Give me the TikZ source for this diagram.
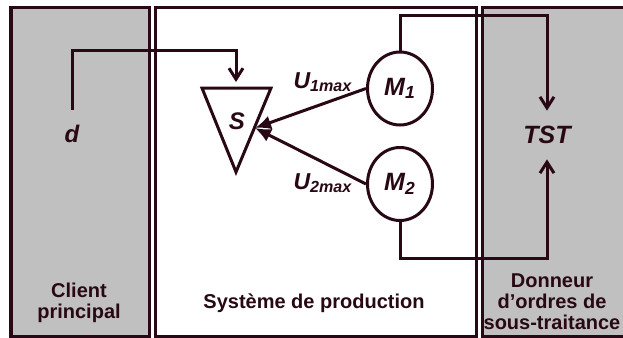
\documentclass[tikz,border=0pt]{standalone}
\usepackage{fontspec}
\setmainfont{Liberation Sans}
\usetikzlibrary{shapes.geometric,arrows.meta}
\definecolor{ink}{RGB}{40,8,20}
\definecolor{zonegray}{RGB}{192,192,192}

\begin{document}
\begin{tikzpicture}[x=0.5pt, y=-0.5pt, color=ink, line width=1.5pt]
\tikzstyle{every node} = [text=ink, font=\bfseries]
\tikzstyle{zone} = [draw=ink, line width=1.5pt]
\tikzstyle{zonetext} = [align=center, font=\bfseries\fontsize{10}{10.5}\selectfont]
\tikzstyle{machine} = [ellipse, draw=ink, line width=1.5pt, minimum width=32.5pt, minimum height=36.5pt, inner sep=0pt, font=\bfseries\itshape\fontsize{12.5}{14}\selectfont]
\tikzstyle{var} = [font=\bfseries\itshape\fontsize{12}{14}\selectfont]
\tikzstyle{ulabel} = [inner sep=0pt, anchor=base west, font=\bfseries\itshape\fontsize{11.5}{13}\selectfont]
\tikzstyle{flow} = [-{Straight Barb[length=5.5pt,width=7pt]}]
\tikzstyle{push} = [-{Latex[length=8pt,width=7pt]}]
\useasboundingbox (0,0) rectangle (623,338);

% zones
\draw[zone, fill=zonegray] (11,7) rectangle (149,336);
\draw[zone, fill=white] (155,7) rectangle (476,336);
\draw[zone, fill=zonegray] (640,7) -- (482,7) -- (482,336) -- (640,336);

\node[zonetext] (client) at (79,303) {Client\\principal};
\node[zonetext, anchor=base] (systeme) at (314,308) {Système de production};
\node[zonetext] (donneur) at (552,301.5) {Donneur\\d’ordres de\\sous-traitance};

% triangle S
\coordinate (tl) at (202,88);
\coordinate (tr) at (271,88);
\coordinate (tb) at (236,172);
\draw[line join=miter] (tl) -- (tr) -- (tb) -- cycle;
\node[var] (S) at (237,121.5) {S};
\coordinate (sIn) at (236,82);
\coordinate (sR) at (255,128);

\node[var, inner sep=6.75pt] (d) at (72,133.5) {d};
\node[var, font=\bfseries\itshape\fontsize{12.5}{14}\selectfont, inner sep=7pt] (TST) at (547,135) {TST};
\node[machine] (M1) at (400,88.5) {M\textsubscript{1}};
\node[machine] (M2) at (400,184) {M\textsubscript{2}};

\node[ulabel] (u1) at (292,88) {U\textsubscript{1max}};
\node[ulabel] (u2) at (292,189) {U\textsubscript{2max}};

\draw[flow] (d.north) |- (236,50) -- (sIn);
\draw[flow] (M1.north) |- (TST.north |- 0,15) -- (TST.north);
\draw[flow] (M2.south) |- (TST.south |- 0,258) -- (TST.south);
\draw[push] (M1.west) -- (sR);
\draw[push] (M2.west) -- (sR);
\end{tikzpicture}
\end{document}
